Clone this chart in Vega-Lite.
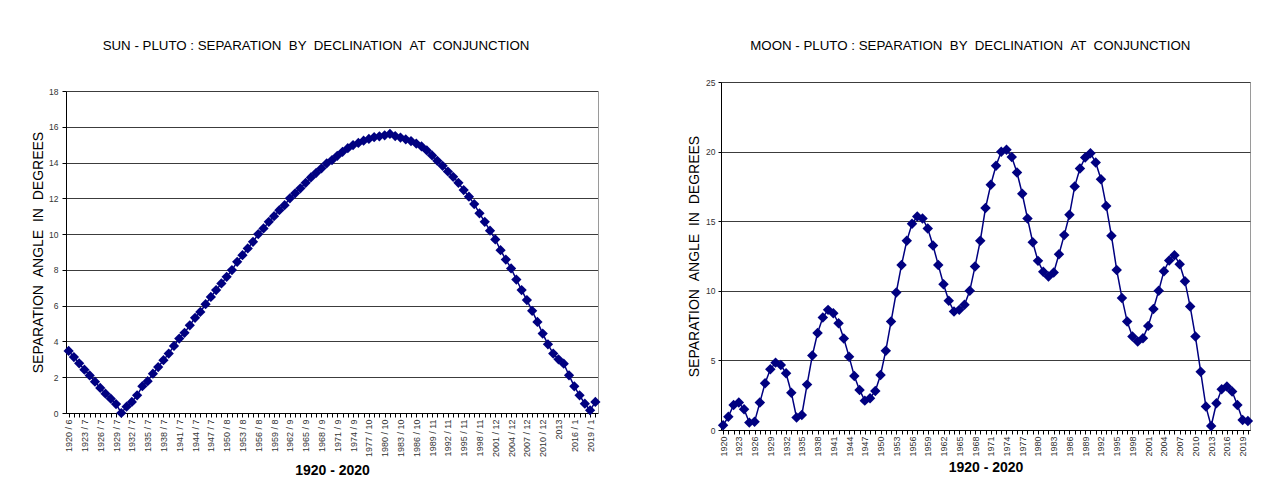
{
  "$schema": "https://vega.github.io/schema/vega-lite/v6.json",
  "background": "white",
  "padding": {"left": 31, "top": 38, "right": 0, "bottom": 0},
  "spacing": 86,
  "config": {
    "font": "Liberation Sans",
    "view": {"stroke": "#9a9a9a", "strokeWidth": 1},
    "title": {"fontSize": 13.3, "fontWeight": "normal", "color": "#000000", "anchor": "middle", "frame": "bounds", "font": "Liberation Sans"},
    "axis": {
      "labelFont": "Liberation Sans", "labelFontSize": 8.5, "labelColor": "#333333",
      "titleFont": "Liberation Sans", "titleColor": "#000000",
      "domainColor": "#000000", "tickColor": "#000000", "gridColor": "#3c3c3c", "gridWidth": 1
    }
  },
  "hconcat": [
    {
      "title": {"text": "SUN - PLUTO : SEPARATION \u00a0BY \u00a0DECLINATION \u00a0AT \u00a0CONJUNCTION", "offset": 29.5},
      "width": 532,
      "height": 331,
      "view": {"stroke": null},
      "data": {"values": [
        {"lab": "1920 / 6", "v": 3.47}, {"lab": "1921 / 6", "v": 3.13}, {"lab": "1922 / 7", "v": 2.78}, {"lab": "1923 / 7", "v": 2.42},
        {"lab": "1924 / 7", "v": 2.1}, {"lab": "1925 / 7", "v": 1.75}, {"lab": "1926 / 7", "v": 1.4}, {"lab": "1927 / 7", "v": 1.08},
        {"lab": "1928 / 7", "v": 0.8}, {"lab": "1929 / 7", "v": 0.5}, {"lab": "1930 / 7", "v": 0.0}, {"lab": "1931 / 7", "v": 0.35},
        {"lab": "1932 / 7", "v": 0.62}, {"lab": "1933 / 7", "v": 0.99}, {"lab": "1934 / 7", "v": 1.5}, {"lab": "1935 / 7", "v": 1.78},
        {"lab": "1936 / 7", "v": 2.2}, {"lab": "1937 / 7", "v": 2.57}, {"lab": "1938 / 7", "v": 2.95}, {"lab": "1939 / 7", "v": 3.32},
        {"lab": "1940 / 7", "v": 3.75}, {"lab": "1941 / 7", "v": 4.16}, {"lab": "1942 / 7", "v": 4.48}, {"lab": "1943 / 7", "v": 4.9},
        {"lab": "1944 / 7", "v": 5.32}, {"lab": "1945 / 7", "v": 5.65}, {"lab": "1946 / 7", "v": 6.08}, {"lab": "1947 / 7", "v": 6.49},
        {"lab": "1948 / 7", "v": 6.87}, {"lab": "1949 / 7", "v": 7.24}, {"lab": "1950 / 8", "v": 7.61}, {"lab": "1951 / 8", "v": 7.99},
        {"lab": "1952 / 8", "v": 8.45}, {"lab": "1953 / 8", "v": 8.82}, {"lab": "1954 / 8", "v": 9.2}, {"lab": "1955 / 8", "v": 9.57},
        {"lab": "1956 / 8", "v": 10.0}, {"lab": "1957 / 8", "v": 10.32}, {"lab": "1958 / 8", "v": 10.69}, {"lab": "1959 / 8", "v": 11.0},
        {"lab": "1960 / 8", "v": 11.34}, {"lab": "1961 / 9", "v": 11.62}, {"lab": "1962 / 9", "v": 12.0}, {"lab": "1963 / 9", "v": 12.28},
        {"lab": "1964 / 9", "v": 12.56}, {"lab": "1965 / 9", "v": 12.87}, {"lab": "1966 / 9", "v": 13.17}, {"lab": "1967 / 9", "v": 13.43},
        {"lab": "1968 / 9", "v": 13.68}, {"lab": "1969 / 9", "v": 13.96}, {"lab": "1970 / 9", "v": 14.14}, {"lab": "1971 / 9", "v": 14.38},
        {"lab": "1972 / 9", "v": 14.6}, {"lab": "1973 / 9", "v": 14.8}, {"lab": "1974 / 9", "v": 14.98}, {"lab": "1975 / 9", "v": 15.1},
        {"lab": "1976 / 9", "v": 15.22}, {"lab": "1977 / 10", "v": 15.32}, {"lab": "1978 / 10", "v": 15.42}, {"lab": "1979 / 10", "v": 15.47},
        {"lab": "1980 / 10", "v": 15.52}, {"lab": "1981 / 10", "v": 15.6}, {"lab": "1982 / 10", "v": 15.48}, {"lab": "1983 / 10", "v": 15.4},
        {"lab": "1984 / 10", "v": 15.3}, {"lab": "1985 / 10", "v": 15.2}, {"lab": "1986 / 10", "v": 15.06}, {"lab": "1987 / 10", "v": 14.9},
        {"lab": "1988 / 10", "v": 14.68}, {"lab": "1989 / 11", "v": 14.4}, {"lab": "1990 / 11", "v": 14.1}, {"lab": "1991 / 11", "v": 13.82},
        {"lab": "1992 / 11", "v": 13.5}, {"lab": "1993 / 11", "v": 13.2}, {"lab": "1994 / 11", "v": 12.87}, {"lab": "1995 / 11", "v": 12.46},
        {"lab": "1996 / 11", "v": 12.09}, {"lab": "1997 / 11", "v": 11.68}, {"lab": "1998 / 11", "v": 11.16}, {"lab": "1999 / 11", "v": 10.69},
        {"lab": "2000 / 11", "v": 10.19}, {"lab": "2001 / 12", "v": 9.7}, {"lab": "2002 / 12", "v": 9.1}, {"lab": "2003 / 12", "v": 8.58},
        {"lab": "2004 / 12", "v": 8.08}, {"lab": "2005 / 12", "v": 7.46}, {"lab": "2006 / 12", "v": 6.87}, {"lab": "2007 / 12", "v": 6.31},
        {"lab": "2008 / 12", "v": 5.71}, {"lab": "2009 / 12", "v": 5.09}, {"lab": "2010 / 12", "v": 4.44}, {"lab": "2011 / 12", "v": 3.84},
        {"lab": "2012 / 12", "v": 3.32}, {"lab": "2013", "v": 3.0}, {"lab": "2014 / 1", "v": 2.76}, {"lab": "2015 / 1", "v": 2.11},
        {"lab": "2016 / 1", "v": 1.49}, {"lab": "2017 / 1", "v": 0.99}, {"lab": "2018 / 1", "v": 0.52}, {"lab": "2019 / 1", "v": 0.15},
        {"lab": "2020 / 1", "v": 0.62}
      ]},
      "layer": [
        {
          "mark": {"type": "line", "color": "#000080", "strokeWidth": 1.5},
          "encoding": {
            "x": {
              "field": "lab", "type": "ordinal", "sort": null,
              "scale": {"type": "point", "padding": 0.5},
              "axis": {
                "title": "1920 - 2020", "titleFontWeight": "bold", "titleFontSize": 14, "titlePadding": 7,
                "labelAngle": -90, "labelOverlap": false, "tickSize": 4, "labelPadding": 2, "labelFontSize": 9,
                "labelExpr": "toNumber(substring(datum.label, 0, 4)) % 3 == 0 ? datum.label : ''",
                "grid": false
              }
            },
            "y": {
              "field": "v", "type": "quantitative",
              "scale": {"domain": [0, 18], "nice": false, "range": [331, 9]},
              "axis": {
                "title": "SEPARATION \u00a0ANGLE \u00a0IN \u00a0DEGREES", "titleFontSize": 14, "titleFontWeight": "normal", "titlePadding": 3,
                "values": [0, 2, 4, 6, 8, 10, 12, 14, 16, 18], "tickSize": 4, "labelPadding": 4, "grid": true
              }
            }
          }
        },
        {
          "mark": {"type": "point", "shape": "diamond", "filled": true, "size": 105, "color": "#000080", "opacity": 1},
          "encoding": {
            "x": {"field": "lab", "type": "ordinal", "sort": null},
            "y": {
              "field": "v", "type": "quantitative",
              "axis": {"orient": "right", "labels": false, "ticks": false, "grid": false, "title": null, "domainColor": "#9a9a9a"}
            }
          }
        }
      ],
      "resolve": {"axis": {"y": "independent"}}
    },
    {
      "title": {"text": "MOON - PLUTO : SEPARATION \u00a0BY \u00a0DECLINATION \u00a0AT \u00a0CONJUNCTION", "offset": 26},
      "width": 529,
      "height": 348,
      "data": {"values": [
        {"yr": 1920, "v": 0.34}, {"yr": 1921, "v": 0.96}, {"yr": 1922, "v": 1.8}, {"yr": 1923, "v": 1.97}, {"yr": 1924, "v": 1.49},
        {"yr": 1925, "v": 0.53}, {"yr": 1926, "v": 0.6}, {"yr": 1927, "v": 1.97}, {"yr": 1928, "v": 3.36}, {"yr": 1929, "v": 4.36},
        {"yr": 1930, "v": 4.84}, {"yr": 1931, "v": 4.67}, {"yr": 1932, "v": 4.07}, {"yr": 1933, "v": 2.68}, {"yr": 1934, "v": 0.89},
        {"yr": 1935, "v": 1.08}, {"yr": 1936, "v": 3.26}, {"yr": 1937, "v": 5.35}, {"yr": 1938, "v": 6.97}, {"yr": 1939, "v": 8.08},
        {"yr": 1940, "v": 8.63}, {"yr": 1941, "v": 8.39}, {"yr": 1942, "v": 7.67}, {"yr": 1943, "v": 6.57}, {"yr": 1944, "v": 5.27},
        {"yr": 1945, "v": 3.88}, {"yr": 1946, "v": 2.88}, {"yr": 1947, "v": 2.11}, {"yr": 1948, "v": 2.28}, {"yr": 1949, "v": 2.8},
        {"yr": 1950, "v": 3.95}, {"yr": 1951, "v": 5.7}, {"yr": 1952, "v": 7.79}, {"yr": 1953, "v": 9.88}, {"yr": 1954, "v": 11.86},
        {"yr": 1955, "v": 13.59}, {"yr": 1956, "v": 14.81}, {"yr": 1957, "v": 15.34}, {"yr": 1958, "v": 15.2}, {"yr": 1959, "v": 14.48},
        {"yr": 1960, "v": 13.25}, {"yr": 1961, "v": 11.86}, {"yr": 1962, "v": 10.47}, {"yr": 1963, "v": 9.28}, {"yr": 1964, "v": 8.51},
        {"yr": 1965, "v": 8.63}, {"yr": 1966, "v": 8.99}, {"yr": 1967, "v": 10.0}, {"yr": 1968, "v": 11.74}, {"yr": 1969, "v": 13.59},
        {"yr": 1970, "v": 15.94}, {"yr": 1971, "v": 17.62}, {"yr": 1972, "v": 18.98}, {"yr": 1973, "v": 19.99}, {"yr": 1974, "v": 20.13},
        {"yr": 1975, "v": 19.61}, {"yr": 1976, "v": 18.5}, {"yr": 1977, "v": 16.97}, {"yr": 1978, "v": 15.2}, {"yr": 1979, "v": 13.49},
        {"yr": 1980, "v": 12.15}, {"yr": 1981, "v": 11.36}, {"yr": 1982, "v": 11.03}, {"yr": 1983, "v": 11.31}, {"yr": 1984, "v": 12.63},
        {"yr": 1985, "v": 14.0}, {"yr": 1986, "v": 15.46}, {"yr": 1987, "v": 17.5}, {"yr": 1988, "v": 18.79}, {"yr": 1989, "v": 19.58},
        {"yr": 1990, "v": 19.89}, {"yr": 1991, "v": 19.22}, {"yr": 1992, "v": 18.02}, {"yr": 1993, "v": 16.1}, {"yr": 1994, "v": 13.95},
        {"yr": 1995, "v": 11.5}, {"yr": 1996, "v": 9.49}, {"yr": 1997, "v": 7.79}, {"yr": 1998, "v": 6.71}, {"yr": 1999, "v": 6.35},
        {"yr": 2000, "v": 6.59}, {"yr": 2001, "v": 7.48}, {"yr": 2002, "v": 8.7}, {"yr": 2003, "v": 10.0}, {"yr": 2004, "v": 11.41},
        {"yr": 2005, "v": 12.18}, {"yr": 2006, "v": 12.56}, {"yr": 2007, "v": 11.91}, {"yr": 2008, "v": 10.69}, {"yr": 2009, "v": 8.87},
        {"yr": 2010, "v": 6.71}, {"yr": 2011, "v": 4.19}, {"yr": 2012, "v": 1.68}, {"yr": 2013, "v": 0.29}, {"yr": 2014, "v": 1.92},
        {"yr": 2015, "v": 2.92}, {"yr": 2016, "v": 3.12}, {"yr": 2017, "v": 2.76}, {"yr": 2018, "v": 1.8}, {"yr": 2019, "v": 0.72},
        {"yr": 2020, "v": 0.65}
      ]},
      "encoding": {
        "x": {
          "field": "yr", "type": "ordinal",
          "scale": {"type": "point", "padding": 0.4},
          "axis": {
            "title": "1920 - 2020", "titleFontWeight": "bold", "titleFontSize": 14, "titlePadding": 4,
            "labelAngle": -90, "labelOverlap": false, "tickSize": 4, "labelPadding": 2, "labelFontSize": 9,
            "labelExpr": "toNumber(datum.label) % 3 == 0 ? datum.label : ''",
            "grid": false
          }
        },
        "y": {
          "field": "v", "type": "quantitative",
          "scale": {"domain": [0, 25], "nice": false},
          "axis": {
            "title": "SEPARATION \u00a0ANGLE \u00a0IN \u00a0DEGREES", "titleFontSize": 14, "titleFontWeight": "normal", "titlePadding": 4,
            "values": [0, 5, 10, 15, 20, 25], "tickSize": 3, "labelPadding": 3, "grid": true
          }
        }
      },
      "layer": [
        {"mark": {"type": "line", "color": "#000080", "strokeWidth": 1.5}},
        {"mark": {"type": "point", "shape": "diamond", "filled": true, "size": 110, "color": "#000080", "opacity": 1}}
      ]
    }
  ]
}
